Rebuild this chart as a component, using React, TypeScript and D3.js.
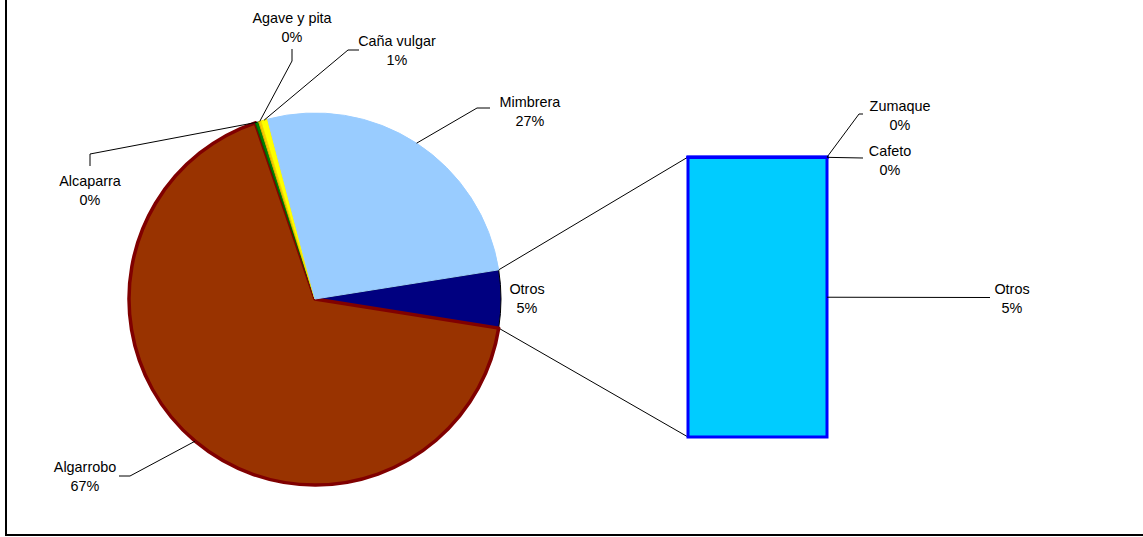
import React from "react";
import * as d3 from "d3";

// Pie (primary) categories, clockwise starting from the "Otros" slice
const pieCategories = ["Otros", "Algarrobo", "Alcaparra", "Agave y pita", "Caña vulgar", "Mimbrera"];
const pieValues = [0, 67.3, 0.3, 0.2, 0.6, 26.6]; // Otros computed from secondary
const pieColors = ["#000080", "#993300", "#008000", "#FFCC00", "#FFFF00", "#99CCFF"];
const pieStrokes = ["#000000", "#800000", "#006000", "#E0B000", "#F0E000", "#99CCFF"];

// Secondary (bar) categories, stacked from bottom
const barCategories = ["Otros", "Cafeto", "Zumaque"];
const barValues = [5.0, 0.004, 0.004];

const W = 1143;
const H = 537;
const cx = 315;
const cy = 299;
const R = 186;

// Label layout: [textCenterX, firstLineCenterY, leader polyline (label side points)]
const pieLabelLayout: Record<string, { x: number; y: number; pts: [number, number][] }> = {
  "Agave y pita": { x: 292, y: 18, pts: [[292, 49], [292, 61]] },
  "Caña vulgar": { x: 397, y: 41, pts: [[359, 50], [348, 50]] },
  Mimbrera: { x: 530, y: 102, pts: [[490, 108], [477, 108]] },
  Alcaparra: { x: 90, y: 181, pts: [[90, 166], [90, 154]] },
  Algarrobo: { x: 85, y: 467, pts: [[119, 476], [130, 476]] },
  Otros: { x: 527, y: 289, pts: [] },
};
const barLabelLayout: Record<string, { x: number; y: number; pts: [number, number][] }> = {
  Zumaque: { x: 900, y: 106, pts: [[863, 114], [859, 114]] },
  Cafeto: { x: 890, y: 151, pts: [[863, 158]] },
  Otros: { x: 1012, y: 289, pts: [[990, 297.5]] },
};

const barX0 = 688;
const barX1 = 827;
const barTop = 157;
const barBottom = 437;

export default function App() {
  const secondaryTotal = d3.sum(barValues);
  const values = pieValues.map((v, i) => (i === 0 ? secondaryTotal : v));
  const total = d3.sum(values);
  const otrosAngle = (values[0] / total) * 2 * Math.PI;
  const start = Math.PI / 2 - otrosAngle / 2;

  const pie = d3
    .pie<number>()
    .sort(null)
    .value((d) => d)
    .startAngle(start)
    .endAngle(start + 2 * Math.PI);
  const arcs = pie(values);
  const arcGen = d3.arc<d3.PieArcDatum<number>>().innerRadius(0).outerRadius(R);

  const pt = (angle: number, r: number): [number, number] => [
    cx + r * Math.sin(angle),
    cy - r * Math.cos(angle),
  ];

  const fmt = (v: number) => `${Math.round((v / total) * 100)}%`;

  const y = d3.scaleLinear().domain([0, secondaryTotal]).range([barBottom, barTop]);
  const stack: { name: string; y0: number; y1: number; v: number }[] = [];
  let acc = 0;
  barValues.forEach((v, i) => {
    stack.push({ name: barCategories[i], y0: acc, y1: acc + v, v });
    acc += v;
  });

  const line = d3.line();
  const fontFamily = "'Liberation Sans', Arial, sans-serif";
  const fs = 14.4;
  const lh = 18.5;

  const otrosArc = arcs[0];
  const upper = pt(otrosArc.startAngle, R);
  const lower = pt(otrosArc.endAngle, R);

  const label = (x: number, y0: number, name: string, pct: string, key: string) => (
    <text key={key} textAnchor="middle" fontFamily={fontFamily} fontSize={fs} fill="#000">
      <tspan x={x} y={y0} dy="0.35em">{name}</tspan>
      <tspan x={x} y={y0 + lh} dy="0.35em">{pct}</tspan>
    </text>
  );

  return (
    <svg
      width={W}
      height={H}
      style={{ position: "absolute", left: 0, top: 0, background: "#fff" }}
    >
      <rect x={0} y={0} width={W} height={H} fill="#fff" />
      <rect x={6} y={-10} width={W + 20} height={545} fill="none" stroke="#000" strokeWidth={2} />

      {/* connector lines */}
      <path d={line([upper, [barX0, barTop]]) || ""} stroke="#000" strokeWidth={1} fill="none" />
      <path d={line([lower, [barX0, barBottom]]) || ""} stroke="#000" strokeWidth={1} fill="none" />

      {/* pie slices */}
      {arcs.map((a, i) => (
        <path
          key={pieCategories[i]}
          d={arcGen(a) || ""}
          transform={`translate(${cx},${cy})`}
          fill={pieColors[i]}
          stroke={pieStrokes[i]}
          strokeWidth={i === 1 ? 3.5 : 1}
          strokeLinejoin="round"
        />
      ))}

      {/* bar of secondary */}
      {stack.map((s) => (
        <rect
          key={s.name}
          x={barX0}
          y={y(s.y1)}
          width={barX1 - barX0}
          height={Math.max(0, y(s.y0) - y(s.y1))}
          fill="#00CCFF"
          stroke="#0000FF"
          strokeWidth={3}
        />
      ))}

      {/* pie leader lines and labels */}
      {arcs.map((a, i) => {
        const name = pieCategories[i];
        const L = pieLabelLayout[name];
        const mid = (a.startAngle + a.endAngle) / 2;
        const p = pt(mid, R);
        return (
          <g key={`l-${name}`}>
            {L.pts.length > 0 && (
              <path d={line([...L.pts, p]) || ""} stroke="#000" strokeWidth={1} fill="none" />
            )}
            {label(L.x, L.y, name, fmt(a.data), `t-${name}`)}
          </g>
        );
      })}

      {/* bar leader lines and labels */}
      {stack.map((s) => {
        const L = barLabelLayout[s.name];
        const anchor: [number, number] = [barX1, y((s.y0 + s.y1) / 2)];
        return (
          <g key={`bl-${s.name}`}>
            <path d={line([...L.pts, anchor]) || ""} stroke="#000" strokeWidth={1} fill="none" />
            {label(L.x, L.y, s.name, fmt(s.v), `bt-${s.name}`)}
          </g>
        );
      })}
    </svg>
  );
}
